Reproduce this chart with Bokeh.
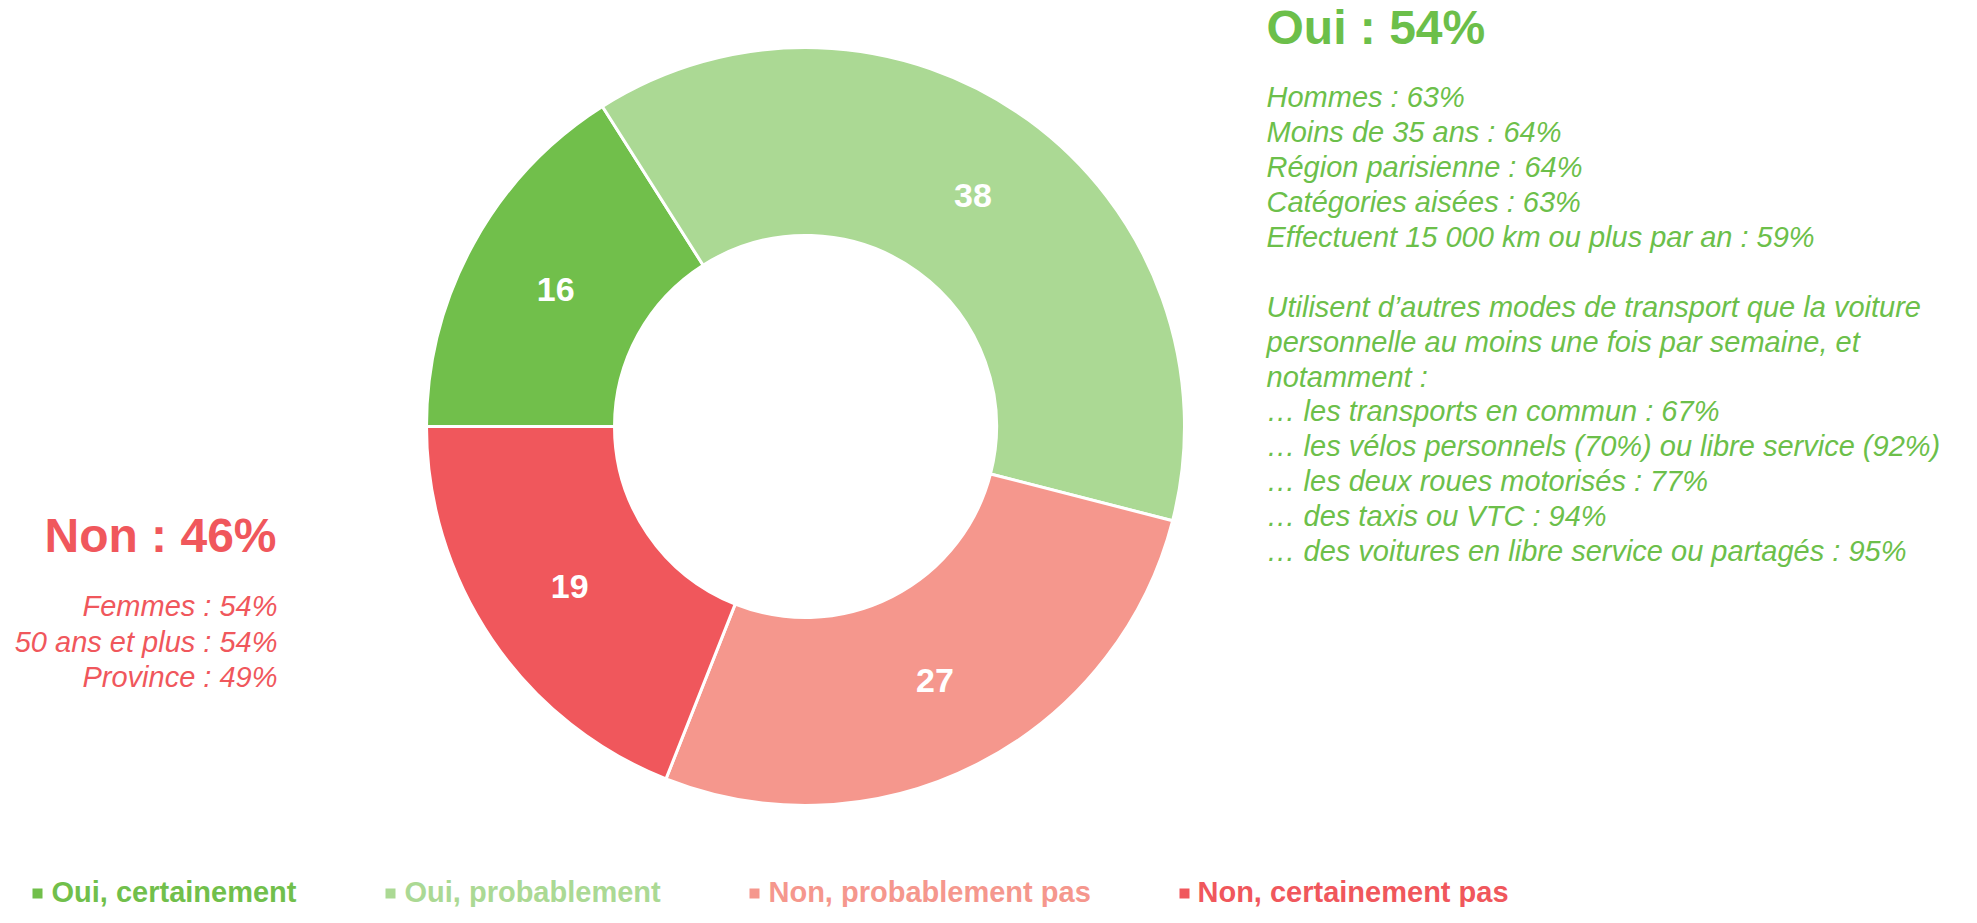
import numpy as np
from bokeh.plotting import figure
from bokeh.models import Range1d, ColumnDataSource
from bokeh.core.properties import value
from bokeh.embed import file_html
from bokeh.resources import INLINE

# ---- data ----
categories = ["Oui, certainement", "Oui, probablement", "Non, probablement pas", "Non, certainement pas"]
values = [16, 38, 27, 19]
colors = ["#71BF4B", "#ABD994", "#F5978D", "#F0575C"]

oui_title = "Oui : 54%"
oui_lines = [
    "Hommes : 63%",
    "Moins de 35 ans : 64%",
    "Région parisienne : 64%",
    "Catégories aisées : 63%",
    "Effectuent 15 000 km ou plus par an : 59%",
    "",
    "Utilisent d\u2019autres modes de transport que la voiture",
    "personnelle au moins une fois par semaine, et",
    "notamment :",
    "\u2026 les transports en commun : 67%",
    "\u2026 les vélos personnels (70%) ou libre service (92%)",
    "\u2026 les deux roues motorisés : 77%",
    "\u2026 des taxis ou VTC : 94%",
    "\u2026 des voitures en libre service ou partagés : 95%",
]
non_title = "Non : 46%"
non_lines = ["Femmes : 54%", "50 ans et plus : 54%", "Province : 49%"]

FONT = value("Liberation Sans")
GREEN_TXT = "#6CBF4A"
RED_TXT = "#F0575C"

W, H = 1961, 907


def Y(ys):
    return H - ys


def YB(ys, size):
    # baseline correction for rendered alphabetic baseline
    return H - (ys - 0.35 * size)


p = figure(width=W, height=H, output_backend="svg", toolbar_location=None,
           x_range=Range1d(0, W), y_range=Range1d(0, H), min_border=0)
p.axis.visible = False
p.grid.visible = False
p.outline_line_color = None
p.background_fill_color = "white"
p.border_fill_color = "white"

# ---- donut ----
cx, cy = 805, 426
r_out, r_in = 379, 191
vals = np.array(values, dtype=float)
cum = np.concatenate([[0], np.cumsum(vals)]) / vals.sum()
start = np.deg2rad(180 - cum[:-1] * 360)
end = np.deg2rad(180 - cum[1:] * 360)
src = ColumnDataSource(dict(start=start, end=end, color=colors))
p.annular_wedge(x=cx, y=Y(cy), inner_radius=r_in, outer_radius=r_out,
                start_angle="start", end_angle="end", direction="clock",
                fill_color="color", line_color="white", line_width=3, source=src)

mid = (start + end) / 2
r_lab = (r_in + r_out) / 2
lab_src = ColumnDataSource(dict(x=cx + r_lab * np.cos(mid), y=Y(cy) + r_lab * np.sin(mid),
                                t=[str(v) for v in values]))
p.text(x="x", y="y", text="t", source=lab_src, text_color="white", text_font=FONT,
       text_font_style="bold", text_font_size="34px", text_align="center",
       text_baseline="middle")

# ---- right green block ----
p.text(x=[1266], y=[YB(44, 48)], text=[oui_title], text_color=GREEN_TXT, text_font=FONT,
       text_font_style="bold", text_font_size="48px", text_align="left",
       text_baseline="alphabetic")
ly = [YB(107 + i * 34.9, 29) for i in range(len(oui_lines))]
p.text(x=[1266] * len(oui_lines), y=ly, text=oui_lines, text_color=GREEN_TXT,
       text_font=FONT, text_font_style="italic", text_font_size="29px",
       text_align="left", text_baseline="alphabetic")

# ---- left red block ----
p.text(x=[276], y=[YB(552, 48)], text=[non_title], text_color=RED_TXT, text_font=FONT,
       text_font_style="bold", text_font_size="48px", text_align="right",
       text_baseline="alphabetic")
ny = [YB(616 + i * 35.5, 29) for i in range(len(non_lines))]
p.text(x=[277] * len(non_lines), y=ny, text=non_lines, text_color=RED_TXT,
       text_font=FONT, text_font_style="italic", text_font_size="29px",
       text_align="right", text_baseline="alphabetic")

# ---- legend (raised slightly so it fits inside the canvas) ----
sq_x = [32, 385, 749, 1179]
txt_x = [51, 404, 768, 1197]
leg_base = 902
p.rect(x=[x + 5 for x in sq_x], y=[Y(leg_base - 9)] * 4, width=10, height=10,
       fill_color=colors, line_color=None)
p.text(x=txt_x, y=[YB(leg_base, 29)] * 4, text=categories, text_color=colors,
       text_font=FONT, text_font_style="bold", text_font_size="29px",
       text_align="left", text_baseline="alphabetic")

open("out.html", "w").write(file_html(p, INLINE))
